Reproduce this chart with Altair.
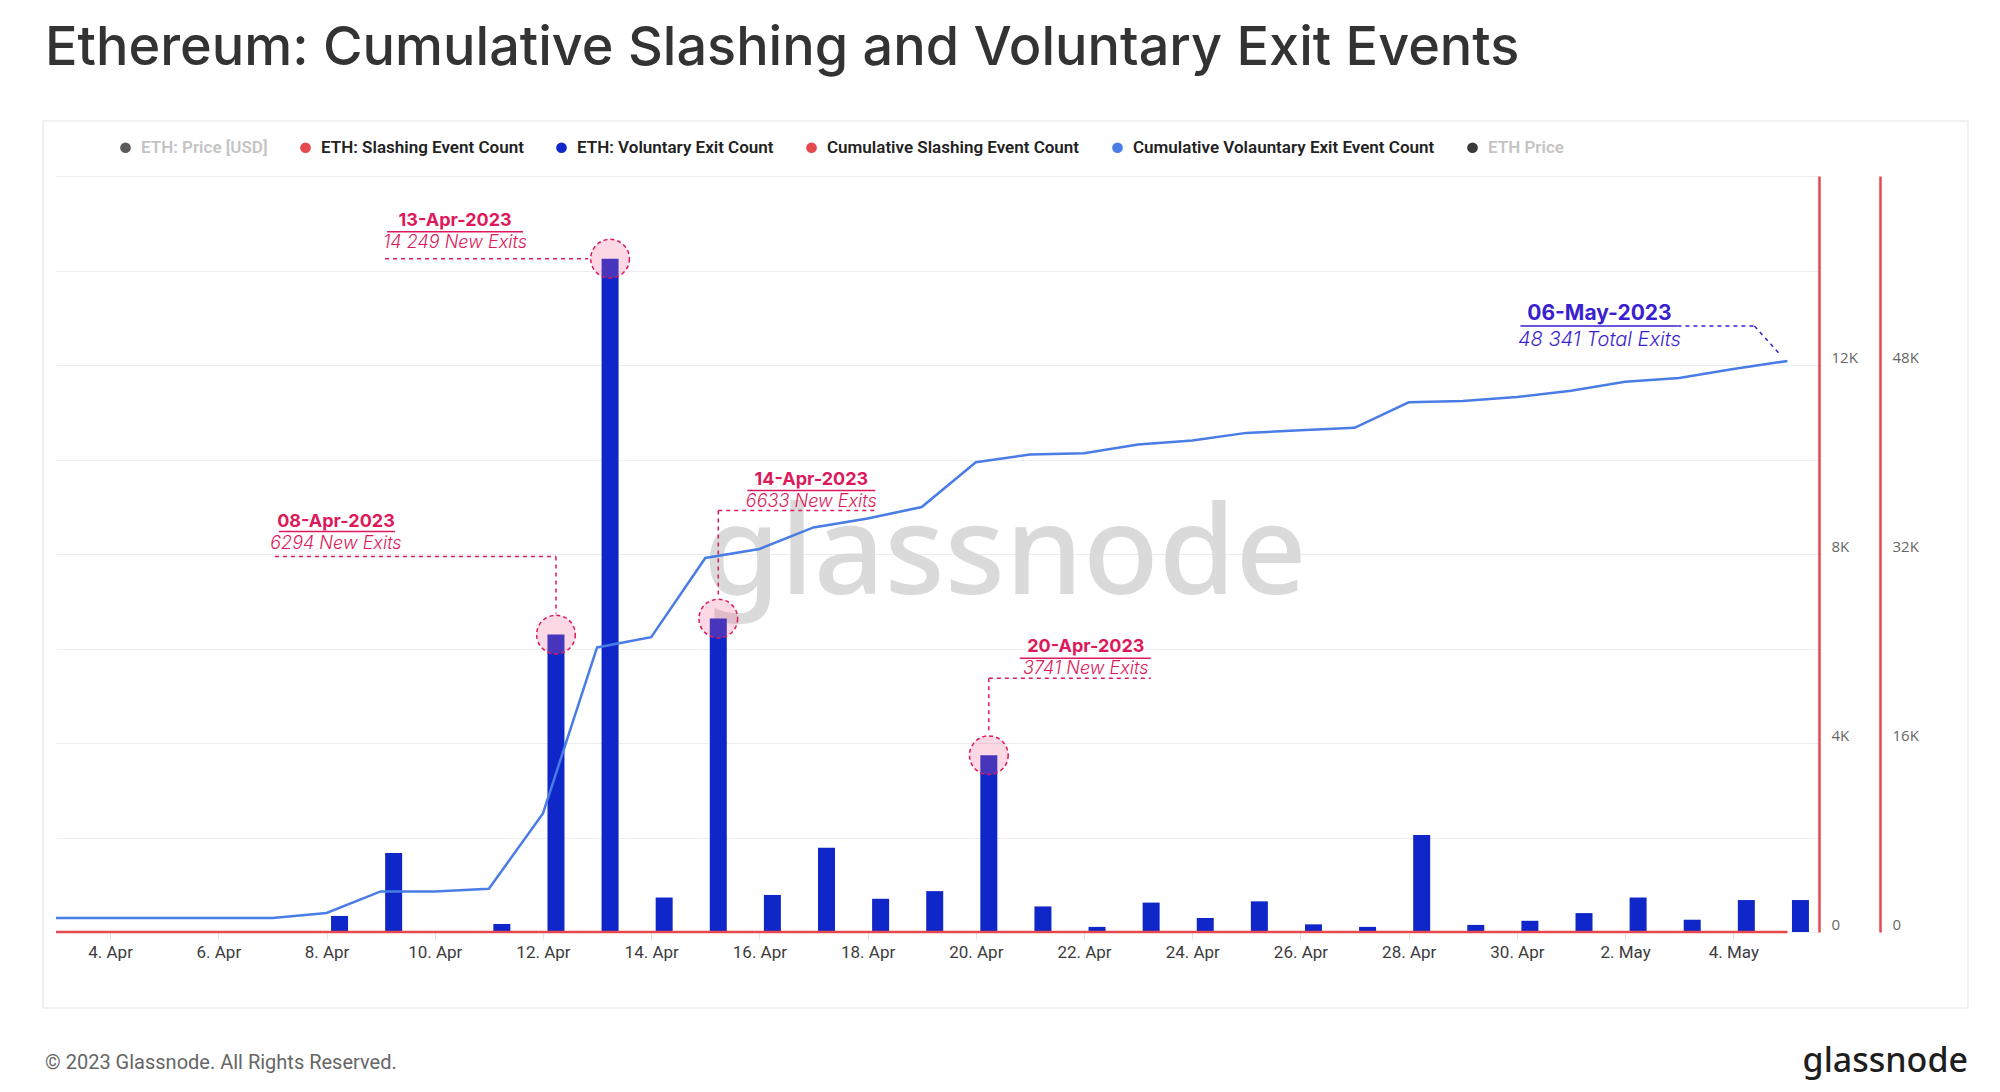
import altair as alt
import pandas as pd

# ------------------------------------------------------------------ data
dates = [d.strftime("%Y-%m-%d") for d in pd.date_range("2023-04-03", "2023-05-05", freq="D")]

# ETH: Voluntary Exit Count (daily)
voluntary_exits = [0, 0, 0, 0, 0, 340, 1672, 0, 170, 6294, 14249, 730, 6633, 784,
                   1785, 703, 865, 3741, 541, 108, 622, 297, 649, 162, 108, 2054,
                   150, 237, 400, 730, 260, 676, 676]
# Cumulative Voluntary Exit Event Count
cumulative_exits = [1185, 1185, 1185, 1185, 1185, 1608, 3437, 3437, 3657, 10040,
                    24093, 24957, 31661, 32423, 34252, 35006, 35979, 39763, 40415,
                    40524, 41278, 41601, 42253, 42470, 42684, 44842, 44953, 45282,
                    45817, 46578, 46899, 47661, 48341]
# Slashing events (daily and cumulative) - zero over the whole period
slashing_events = [0] * len(dates)

x_tick_dates = ["2023-04-04", "2023-04-06", "2023-04-08", "2023-04-10", "2023-04-12",
                "2023-04-14", "2023-04-16", "2023-04-18", "2023-04-20", "2023-04-22",
                "2023-04-24", "2023-04-26", "2023-04-28", "2023-04-30", "2023-05-02",
                "2023-05-04"]
left_grid_values = [0, 2000, 4000, 6000, 8000, 10000, 12000, 14000, 16000]
right_axis_values = [0, 16000, 32000, 48000]

legend_series = ["ETH: Price [USD]", "ETH: Slashing Event Count", "ETH: Voluntary Exit Count",
                 "Cumulative Slashing Event Count", "Cumulative Volauntary Exit Event Count",
                 "ETH Price"]
legend_colors = ["#5a5a5a", "#e5484d", "#0f27c9", "#e5484d", "#4a7ce6", "#3a3a3a"]
legend_inactive = ["ETH: Price [USD]", "ETH Price"]

bar_annotations = [
    {"date": "2023-04-12", "value": 6294, "head": "08-Apr-2023", "sub": "6294 New Exits"},
    {"date": "2023-04-13", "value": 14249, "head": "13-Apr-2023", "sub": "14 249 New Exits"},
    {"date": "2023-04-15", "value": 6633, "head": "14-Apr-2023", "sub": "6633 New Exits"},
    {"date": "2023-04-20", "value": 3741, "head": "20-Apr-2023", "sub": "3741 New Exits"},
]
total_annotation = {"date": "2023-05-05", "value": 48341, "head": "06-May-2023",
                    "sub": "48 341 Total Exits"}

title_text = "Ethereum: Cumulative Slashing and Voluntary Exit Events"
footer_text = "© 2023 Glassnode. All Rights Reserved."
brand_text = "glassnode"

# ------------------------------------------------------------------ layout / style
W, H = 1763, 756
BAR_SHIFT = 13
RED = "#e5484d"
PINK = "#dc1a5b"
INDIGO = "#3a1fd1"

# pixel layout of each annotation relative to its anchor point
bar_layouts = [
    {"head": (-220, -113), "sub": (-220, -91), "under": (-103, -277, -161),
     "dashed": [((-281, -78), (0, -78)), ((0, -78), (0, -21))]},
    {"head": (-155, -38), "sub": (-155, -16), "under": (-27, -223, -87),
     "dashed": [((-225, 0), (-22, 0))]},
    {"head": (93, -139), "sub": (93, -117), "under": (-128, 29, 157),
     "dashed": [((0, -108), (157, -108)), ((0, -108), (0, -21))]},
    {"head": (97, -108), "sub": (97, -86), "under": (-97, 31, 162),
     "dashed": [((0, -77), (162, -77)), ((0, -77), (0, -21))]},
]
total_layout = {"head": (-188, -47), "sub": (-188, -21), "under": (-35, -267, -110),
                "dashed": [((-110, -35), (-33, -35)), ((-33, -35), (-7, -6))]}


def dt(s, hours=0):
    y, m, d = (int(v) for v in s.split("-"))
    return alt.DateTime(year=y, month=m, date=d, hours=hours, utc=True)


x_scale = alt.Scale(type="utc", domain=[dt("2023-04-03"), dt("2023-05-05", 14)],
                    padding=0, nice=False)
x_axis = alt.Axis(values=[dt(s) for s in x_tick_dates],
                  labelExpr="utcFormat(datum.value, '%-d. %b')",
                  title=None, domain=False, grid=False, ticks=True, tickSize=7,
                  tickColor="#e2e2e2", labelFont="Roboto", labelFontSize=17,
                  labelColor="#3c3c3c", labelPadding=5, labelFlush=False)
x_enc = alt.X("date:T", scale=x_scale, axis=x_axis)

yA_axis = alt.Axis(orient="right", values=left_grid_values, title=None, grid=True,
                   gridColor="#ededed", gridWidth=1, ticks=False, tickSize=0,
                   domain=True, domainColor=RED, domainWidth=2.5,
                   labelExpr="datum.value == 0 ? '0' : (datum.value % 4000 == 0 && datum.value < 16000 ? (datum.value / 1000) + 'K' : '')",
                   labelFont="Open Sans", labelFontSize=15, labelColor="#666666",
                   labelPadding=12, labelOffset=-8, labelBaseline="middle")
yA = alt.Y("value:Q", scale=alt.Scale(domain=[0, 16000], nice=False), axis=yA_axis)

yB_axis = alt.Axis(orient="right", offset=61, values=right_axis_values, title=None,
                   grid=False, ticks=False, tickSize=0, domain=True, domainColor=RED,
                   domainWidth=2.5,
                   labelExpr="datum.value == 0 ? '0' : (datum.value / 1000) + 'K'",
                   labelFont="Open Sans", labelFontSize=15, labelColor="#666666",
                   labelPadding=12, labelOffset=-8, labelBaseline="middle")
yB = alt.Y("value:Q", scale=alt.Scale(domain=[0, 64000], nice=False), axis=yB_axis)

# ------------------------------------------------------------------ data tables
bars_df = pd.DataFrame({"date": dates, "value": voluntary_exits,
                        "series": "ETH: Voluntary Exit Count"})
slash_df = pd.DataFrame({"date": dates, "value": slashing_events})
cum_df = pd.DataFrame({"date": dates, "value": cumulative_exits})

legend = alt.Legend(
    title=None, orient="none", legendX=61, legendY=-37, direction="horizontal",
    columns=6, symbolType="circle", symbolSize=115, symbolStrokeWidth=0,
    labelFont="Roboto", labelFontSize=17, labelFontWeight=600,
    labelColor=alt.ExprRef(expr="indexof(" + str(legend_inactive) +
                           ", datum.value) >= 0 ? '#c4c4c4' : '#222222'"),
    labelOffset=7, columnPadding=29, padding=0, labelLimit=500,
)

bars = alt.Chart(bars_df).mark_bar(size=17, xOffset=BAR_SHIFT).encode(
    x=x_enc, y=yA,
    color=alt.Color("series:N", scale=alt.Scale(domain=legend_series, range=legend_colors),
                    legend=legend),
)
slash_line = alt.Chart(slash_df).mark_line(color=RED, strokeWidth=2.5).encode(x=x_enc, y=yA)
cum_line = alt.Chart(cum_df).mark_line(color="#4a7ce6", strokeWidth=2.5).encode(x=x_enc, y=yB)


def annotation_layers(row, lay, yenc, color, shift, head_size, sub_size, circle):
    base = alt.Chart(pd.DataFrame([row])).encode(x=x_enc, y=yenc)
    out = []
    if circle:
        out.append(base.mark_point(shape="circle", size=1500, filled=True, fill="#f06292",
                                   fillOpacity=0.25, stroke=color, strokeWidth=1.5,
                                   strokeDash=[4, 3], opacity=1, xOffset=shift))
    for (x1, y1), (x2, y2) in lay["dashed"]:
        out.append(base.mark_rule(color=color, strokeWidth=1.5, strokeDash=[4, 4],
                                  xOffset=x1 + shift, yOffset=y1,
                                  x2Offset=x2 + shift, y2Offset=y2)
                   .encode(x2=alt.X2("date:T"), y2=alt.Y2("value:Q")))
    uy, ux1, ux2 = lay["under"]
    out.append(base.mark_rule(color=color, strokeWidth=1.5, xOffset=ux1 + shift, yOffset=uy,
                              x2Offset=ux2 + shift, y2Offset=uy)
               .encode(x2=alt.X2("date:T"), y2=alt.Y2("value:Q")))
    out.append(base.mark_text(font="Inter", fontSize=head_size, fontWeight="bold", color=color,
                              align="center", baseline="middle",
                              dx=lay["head"][0] + shift, dy=lay["head"][1])
               .encode(text="head:N"))
    out.append(base.mark_text(font="Inter", fontSize=sub_size, fontStyle="italic",
                              fontWeight=300, color=color, align="center", baseline="middle",
                              dx=lay["sub"][0] + shift, dy=lay["sub"][1])
               .encode(text="sub:N"))
    return out


ann_a = []
for row, lay in zip(bar_annotations, bar_layouts):
    ann_a += annotation_layers(row, lay, yA, PINK, BAR_SHIFT, 18, 18, True)
ann_b = annotation_layers(total_annotation, total_layout, yB, INDIGO, 0, 21, 20, False)

layer_a = alt.layer(bars, slash_line, *ann_a)
layer_b = alt.layer(cum_line, *ann_b)

# ------------------------------------------------------------------ decorations
text_df = pd.DataFrame({"title": [title_text], "footer": [footer_text], "brand": [brand_text]})
deco = alt.Chart(text_df)
frame = deco.mark_rect(fill="transparent", stroke="#e6e6e6", strokeWidth=1.2).encode(
    x=alt.value(-13), x2=alt.value(1912), y=alt.value(-55), y2=alt.value(832))
watermark = deco.mark_text(font="Noto Sans", fontSize=124, fontWeight=500, color="#dadada",
                           align="center", baseline="alphabetic").encode(
    text="brand:N", x=alt.value(949), y=alt.value(418))
title = deco.mark_text(font="Inter", fontSize=54, fontWeight=500, color="#333333",
                       align="left", baseline="alphabetic").encode(
    text="title:N", x=alt.value(-11), y=alt.value(-111))
footer = deco.mark_text(font="Roboto", fontSize=20, color="#666666", align="left",
                        baseline="alphabetic").encode(
    text="footer:N", x=alt.value(-11), y=alt.value(893))
brand = deco.mark_text(font="Noto Sans", fontSize=34, fontWeight=500, color="#1e1e1e",
                       align="right", baseline="alphabetic").encode(
    text="brand:N", x=alt.value(1912), y=alt.value(896))

chart = alt.layer(frame, watermark, title, footer, brand, layer_a, layer_b).resolve_scale(
    y="independent"
).properties(
    width=W, height=H,
    autosize=alt.AutoSizeParams(type="none"),
    padding={"left": 48, "top": 168, "right": 173, "bottom": 150},
    background="white",
).configure_view(stroke=None)

chart.save("out.html", embed_options={"renderer": "svg", "actions": False})
